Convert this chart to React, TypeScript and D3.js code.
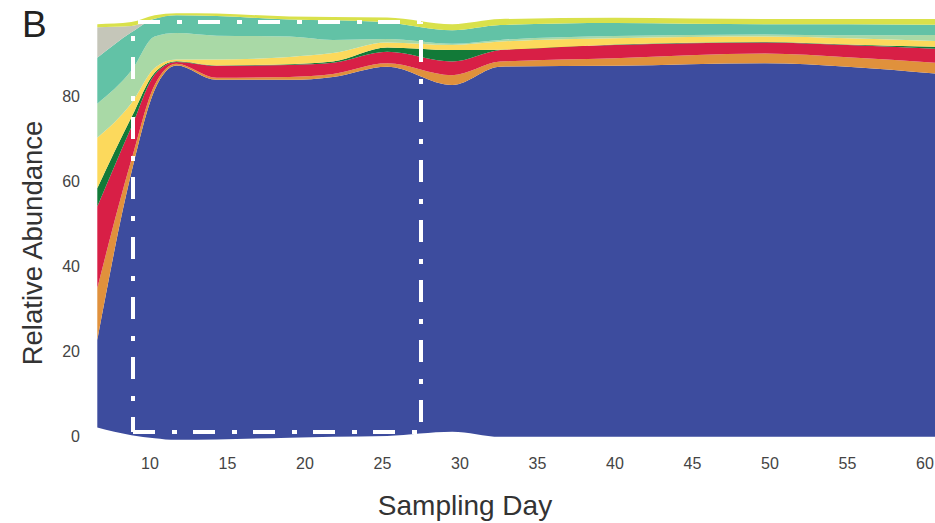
import React from "react";
import * as d3 from "d3";

const days = [6.6, 8.8, 10.3, 11.7, 14.3, 19, 21.8, 25.3, 29.5, 32.6, 40, 49.7, 55, 61.5];
const baseline = [2, 0.2, -0.5, -0.9, -0.8, -0.4, -0.2, 0, 1, -0.2, -0.2, -0.2, -0.2, -0.2];
const blue = [20.6, 61.8, 81.9, 88.1, 84.6, 84.2, 84.7, 86.9, 81.6, 87.1, 87.3, 87.9, 87.1, 85.2];
const orange = [12.2, 3, 1.2, 0.4, 0.5, 0.7, 0.7, 0.8, 2.3, 1.2, 1.8, 2.3, 2.2, 2.6];
const red = [19.2, 7.7, 2.4, 0.4, 2.8, 2.8, 2.6, 2.7, 3.2, 2.7, 3.1, 2.6, 2.9, 3.4];
const darkGreen = [4.3, 2.3, 0.5, 0.2, 0.1, 0.2, 0.3, 1.0, 2.7, 0.1, 0.1, 0.1, 0.1, 0.5];
const yellow = [11.9, 3.3, 1.1, 0.4, 1.4, 1.7, 2.0, 1.2, 1.2, 1.9, 1.5, 1.3, 1.5, 1.3];
const lightGreen = [8, 7.7, 7.4, 6.2, 5.6, 4.8, 3.1, 0.8, 0.3, 0.4, 0.5, 0.5, 0.7, 1.6];
const teal = [10.8, 9, 4.2, 4.2, 4.6, 4, 4.6, 3.9, 3.2, 3.5, 3.1, 2.4, 2.6, 2.3];
const gray = [7.2, 1.5, 0, 0, 0, 0, 0, 0, 0, 0, 0, 0, 0, 0];
const yellowGreen = [0.7, 0.9, 0.8, 0.5, 0.6, 0.7, 0.8, 1.2, 1.4, 1.4, 1.2, 1.2, 1.2, 1.4];

const seriesKeys = ["base", "blue", "orange", "red", "darkGreen", "yellow", "lightGreen", "teal", "gray", "yellowGreen"];
const seriesValues = [baseline, blue, orange, red, darkGreen, yellow, lightGreen, teal, gray, yellowGreen];
const seriesColors = ["none", "#3D4C9E", "#E0913C", "#D81F46", "#127A38", "#FCD95C", "#A9D9A6", "#62C2A6", "#C5C6B9", "#D9E14B"];

const xTicks = [10, 15, 20, 25, 30, 35, 40, 45, 50, 55, 60];
const yTicks = [0, 20, 40, 60, 80];

export default function App() {
  const x = d3.scaleLinear().domain([10, 60]).range([150, 925]);
  const y = d3.scaleLinear().domain([0, 80]).range([436, 96]);

  const table = days.map((d, i) => {
    const row: any = { day: d };
    seriesKeys.forEach((k, j) => (row[k] = seriesValues[j][i]));
    return row;
  });
  const stacked = d3.stack<any>().keys(seriesKeys).offset(d3.stackOffsetNone)(table);
  const area = d3
    .area<any>()
    .x((p: any) => x(p.data.day))
    .y0((p: any) => y(p[0]))
    .y1((p: any) => y(p[1]))
    .curve(d3.curveMonotoneX);

  const font = "'Liberation Sans', Arial, Helvetica, sans-serif";
  const rx0 = 133, rx1 = 421, ry0 = 22, ry1 = 432;
  const dash = "22 17 5 16";

  return (
    <div style={{ position: "fixed", left: 0, top: 0 }}>
      <svg width={935} height={523} style={{ display: "block", background: "#fff" }}>
        {stacked.map((s, i) =>
          i === 0 ? null : <path key={seriesKeys[i]} d={area(s) || ""} fill={seriesColors[i]} stroke="none" />
        )}
        <g stroke="#fff" strokeWidth={4} fill="none">
          <line x1={rx0} y1={ry0} x2={rx1} y2={ry0} strokeDasharray={dash} strokeDashoffset={55} />
          <line x1={rx0} y1={ry0} x2={rx0} y2={ry1} strokeDasharray={dash} strokeDashoffset={25} />
          <line x1={rx1} y1={ry0} x2={rx1} y2={ry1} strokeDasharray={dash} strokeDashoffset={42} />
          <line x1={rx0} y1={ry1} x2={rx1 - 4} y2={ry1} strokeDasharray={dash} strokeDashoffset={0} />
        </g>
        {yTicks.map((t) => (
          <text key={"y" + t} x={80} y={y(t)} dy="0.35em" textAnchor="end" fontSize={16} fill="#444" fontFamily={font}>
            {t}
          </text>
        ))}
        {xTicks.map((t) => (
          <text key={"x" + t} x={x(t)} y={469} textAnchor="middle" fontSize={16} fill="#444" fontFamily={font}>
            {t}
          </text>
        ))}
        <text x={465} y={515} textAnchor="middle" fontSize={28} fill="#333" fontFamily={font}>
          Sampling Day
        </text>
        <text transform="translate(42,243) rotate(-90)" textAnchor="middle" fontSize={27.5} fill="#333" fontFamily={font}>
          Relative Abundance
        </text>
        <text x={22} y={37} fontSize={37} fill="#222" fontFamily={font}>
          B
        </text>
      </svg>
    </div>
  );
}
